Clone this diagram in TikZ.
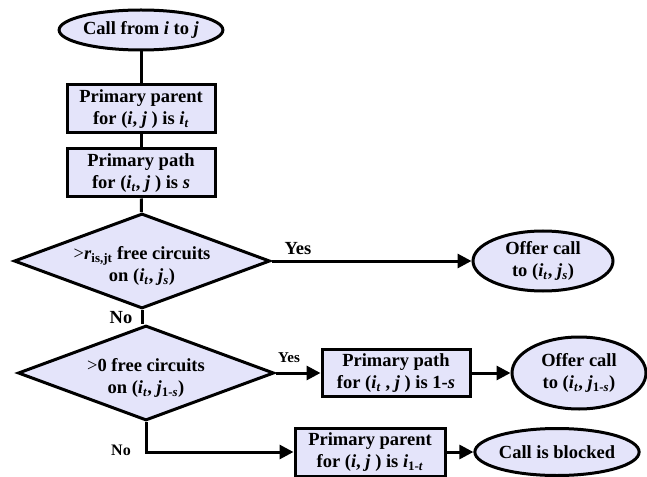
\documentclass[tikz,border=0pt]{standalone}
\usepackage{fontspec}
\setmainfont{Liberation Serif}
\usetikzlibrary{shapes.geometric,arrows.meta}
\definecolor{fillc}{RGB}{228,228,250}
\newcommand{\iv}[1]{\textit{#1}}
\newcommand{\sbs}[1]{\textsubscript{#1}}
\begin{document}
\begin{tikzpicture}[x=1bp,y=-1bp,
  every node/.style={font=\fontsize{18.5bp}{22bp}\selectfont\bfseries, align=center, inner sep=0pt},
  box/.style={draw, line width=3bp, fill=fillc, minimum width=148bp, minimum height=48bp},
  oval/.style={draw, ellipse, line width=3bp, fill=fillc, inner sep=0pt},
  dia/.style={draw, diamond, line width=3bp, fill=fillc, minimum width=256bp, minimum height=95bp},
  conn/.style={line width=3bp},
  arr/.style={conn, -{Triangle[length=14bp,width=14bp]}}]
\useasboundingbox (0,0) rectangle (647,477);

\node[oval, minimum width=142bp, minimum height=40bp] (e0) at (141,30) {Call from \iv{i} to \iv{j}};
\node[box] (b1) at (141,109) {Primary parent\\for (\iv{i}, \iv{j} ) is \iv{i}\sbs{\iv{t}}};
\node[box] (b2) at (141,173) {Primary path\\for (\iv{i}\sbs{\iv{t}}, \iv{j} ) is \iv{s}};
\node[dia] (d1) at (142,261) {};
\node (t1) at (142,266) {{\mdseries >}\iv{r}\sbs{is,jt} free circuits\\on (\iv{i}\sbs{\iv{t}}, \iv{j}\sbs{\iv{s}})};
\node[oval, minimum width=140bp, minimum height=60bp] (e1) at (543,261) {Offer call\\to (\iv{i}\sbs{\iv{t}}, \iv{j}\sbs{\iv{s}})};
\node[dia] (d2) at (146,373) {};
\node (t2) at (146,378) {{\mdseries >}0 free circuits\\on (\iv{i}\sbs{\iv{t}}, \iv{j}\sbs{1-\iv{s}})};
\node[box, minimum height=47bp] (b3) at (396,373) {Primary path\\for (\iv{i}\sbs{\iv{t}} , \iv{j} ) is 1-\iv{s}};
\node[oval, minimum width=134bp, minimum height=72bp] (e2) at (579,373) {Offer call\\to (\iv{i}\sbs{\iv{t}}, \iv{j}\sbs{1-\iv{s}})};
\node[box, minimum width=150bp] (b4) at (370,452) {Primary parent\\for (\iv{i}, \iv{j} ) is \iv{i}\sbs{1-\iv{t}}};
\node[oval, minimum width=141bp, minimum height=47bp] (e3) at (557,452) {Call is blocked};

\draw[conn] (e0) -- (b1);
\draw[conn] (b1) -- (b2);
\draw[conn] (b2) -- (d1);
\draw[conn] (d1.south) -- (d1.south |- d2.north);
\draw[arr] (d1.east) -- (e1.west);
\draw[arr] (d2.east) -- (b3.west);
\draw[arr] (b3.east) -- (e2.west);
\coordinate (c1) at (d2.south |- b4.west);
\draw[arr] (d2.south) -- (c1) -- (b4.west);
\draw[arr] (b4.east) -- (e3.west);

\node (y1) at (298,249) {Yes};
\node[font=\fontsize{15bp}{18bp}\selectfont\bfseries] (y2) at (289,358) {Yes};
\node (n1) at (121,318) {No};
\node[font=\fontsize{16bp}{18bp}\selectfont\bfseries] (n2) at (121,450) {No};
\end{tikzpicture}
\end{document}
